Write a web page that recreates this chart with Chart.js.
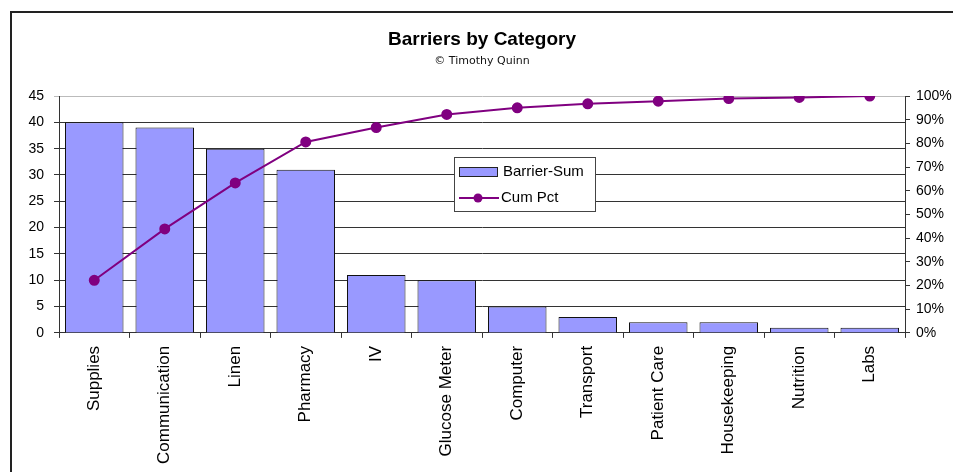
<!DOCTYPE html>
<html>
<head>
<meta charset="utf-8">
<script src="https://cdn.jsdelivr.net/npm/chart.js@4/dist/chart.umd.min.js"></script>
<style>
html,body{margin:0;padding:0;background:#fff}
#wrap{width:953px;height:472px;position:relative}
</style>
</head>
<body>
<div id="wrap"><canvas id="paretoChart" width="953" height="472"></canvas></div>
<script>
// categories and values
const categories = ["Supplies","Communication","Linen","Pharmacy","IV","Glucose Meter","Computer","Transport","Patient Care","Housekeeping","Nutrition","Labs"]
const barrierSum = [40,39,35,31,11,10,5,3,2,2,1,1]
const cumPct = [22.2,43.9,63.3,80.6,86.7,92.2,95.0,96.7,97.8,98.9,99.4,100]
const leftTicks = [0,5,10,15,20,25,30,35,40,45]
const rightTicks = [0,10,20,30,40,50,60,70,80,90,100]

const FONT = "Liberation Sans, Arial, sans-serif"

// frame round the whole chart
const framePlugin = {
  id:"frame",
  beforeDraw(c){
    const ctx=c.ctx
    ctx.save()
    ctx.fillStyle="#fff"
    ctx.fillRect(0,0,c.width,c.height)
    ctx.strokeStyle="#222"
    ctx.lineWidth=2
    ctx.beginPath()
    ctx.moveTo(11,472)
    ctx.lineTo(11,12)
    ctx.lineTo(953,12)
    ctx.stroke()
    ctx.restore()
  }
}

// Excel style legend box in the middle of the plot
const boxLegend = {
  id:"boxLegend",
  afterDraw(c){
    const ctx=c.ctx
    const bars=c.data.datasets.find(d=>d.type==="bar")
    const line=c.data.datasets.find(d=>d.type==="line")
    const x=454,y=157,w=141,h=54
    ctx.save()
    ctx.fillStyle="#fff"
    ctx.fillRect(x,y,w,h)
    ctx.strokeStyle="#444"
    ctx.lineWidth=1
    ctx.strokeRect(x+0.5,y+0.5,w,h)

    ctx.fillStyle="#9999ff"
    ctx.fillRect(x+5,y+10,38,9)
    ctx.strokeStyle="#222"
    ctx.strokeRect(x+5.5,y+10.5,38,9)

    ctx.strokeStyle="#800080"
    ctx.lineWidth=2
    ctx.beginPath()
    ctx.moveTo(x+5,y+41)
    ctx.lineTo(x+45,y+41)
    ctx.stroke()
    ctx.fillStyle="#800080"
    ctx.beginPath()
    ctx.arc(x+24,y+41,4.5,0,Math.PI*2)
    ctx.fill()

    ctx.fillStyle="#000"
    ctx.font="15px "+FONT
    ctx.textBaseline="middle"
    ctx.fillText(bars.label,x+49,y+15)
    ctx.fillText(line.label,x+47,y+41)
    ctx.restore()
  }
}

new Chart(document.getElementById("paretoChart"),{
  data:{
    labels:categories,
    datasets:[
      {
        type:"line",
        label:"Cum Pct",
        data:cumPct,
        yAxisID:"yPct",
        borderColor:"#800080",
        backgroundColor:"#800080",
        borderWidth:2,
        pointRadius:4.5,
        pointBackgroundColor:"#800080",
        pointBorderColor:"#800080",
        tension:0,
        order:1
      },
      {
        type:"bar",
        label:"Barrier-Sum",
        data:barrierSum,
        yAxisID:"y",
        backgroundColor:"#9999ff",
        borderColor:"#111",
        borderWidth:1,
        barPercentage:0.83,
        categoryPercentage:1,
        order:2
      }
    ]
  },
  options:{
    responsive:false,
    animation:false,
    layout:{padding:{left:0,right:0,top:0,bottom:0}},
    plugins:{
      legend:{display:false},
      tooltip:{enabled:false},
      title:{
        display:true,
        fullSize:false,
        text:"Barriers by Category",
        color:"#000",
        font:{family:FONT,size:19,weight:"bold"},
        padding:{top:28,bottom:4}
      },
      subtitle:{
        display:true,
        fullSize:false,
        text:"© Timothy Quinn",
        color:"#111",
        font:{family:"DejaVu Sans",size:11},
        padding:{bottom:28}
      }
    },
    scales:{
      x:{
        offset:true,
        grid:{display:true,offset:true,drawOnChartArea:false,drawTicks:true,tickLength:5,color:"#333"},
        border:{display:true,color:"#333",width:1},
        ticks:{
          color:"#000",
          font:{family:FONT,size:17},
          maxRotation:90,
          minRotation:90,
          autoSkip:false,
          padding:8
        }
      },
      y:{
        position:"left",
        min:0,
        max:45,
        afterBuildTicks(s){ s.ticks=leftTicks.map(v=>({value:v})) },
        afterFit(s){ s.width=59 },
        grid:{
          color(ctx){ return ctx.tick && ctx.tick.value===45 ? "#bbb" : "#333" },
          lineWidth:1,
          tickLength:5,
          drawTicks:true
        },
        border:{display:true,color:"#333"},
        ticks:{color:"#000",font:{family:FONT,size:14},padding:10}
      },
      yPct:{
        position:"right",
        min:0,
        max:100,
        afterBuildTicks(s){ s.ticks=rightTicks.map(v=>({value:v})) },
        afterFit(s){ s.width=48 },
        grid:{drawOnChartArea:false,tickLength:5,color:"#333"},
        border:{display:true,color:"#333"},
        ticks:{
          color:"#000",
          font:{family:FONT,size:14},
          padding:6,
          callback:v=>v+"%"
        }
      }
    }
  },
  plugins:[framePlugin,boxLegend]
})
</script>
</body>
</html>
